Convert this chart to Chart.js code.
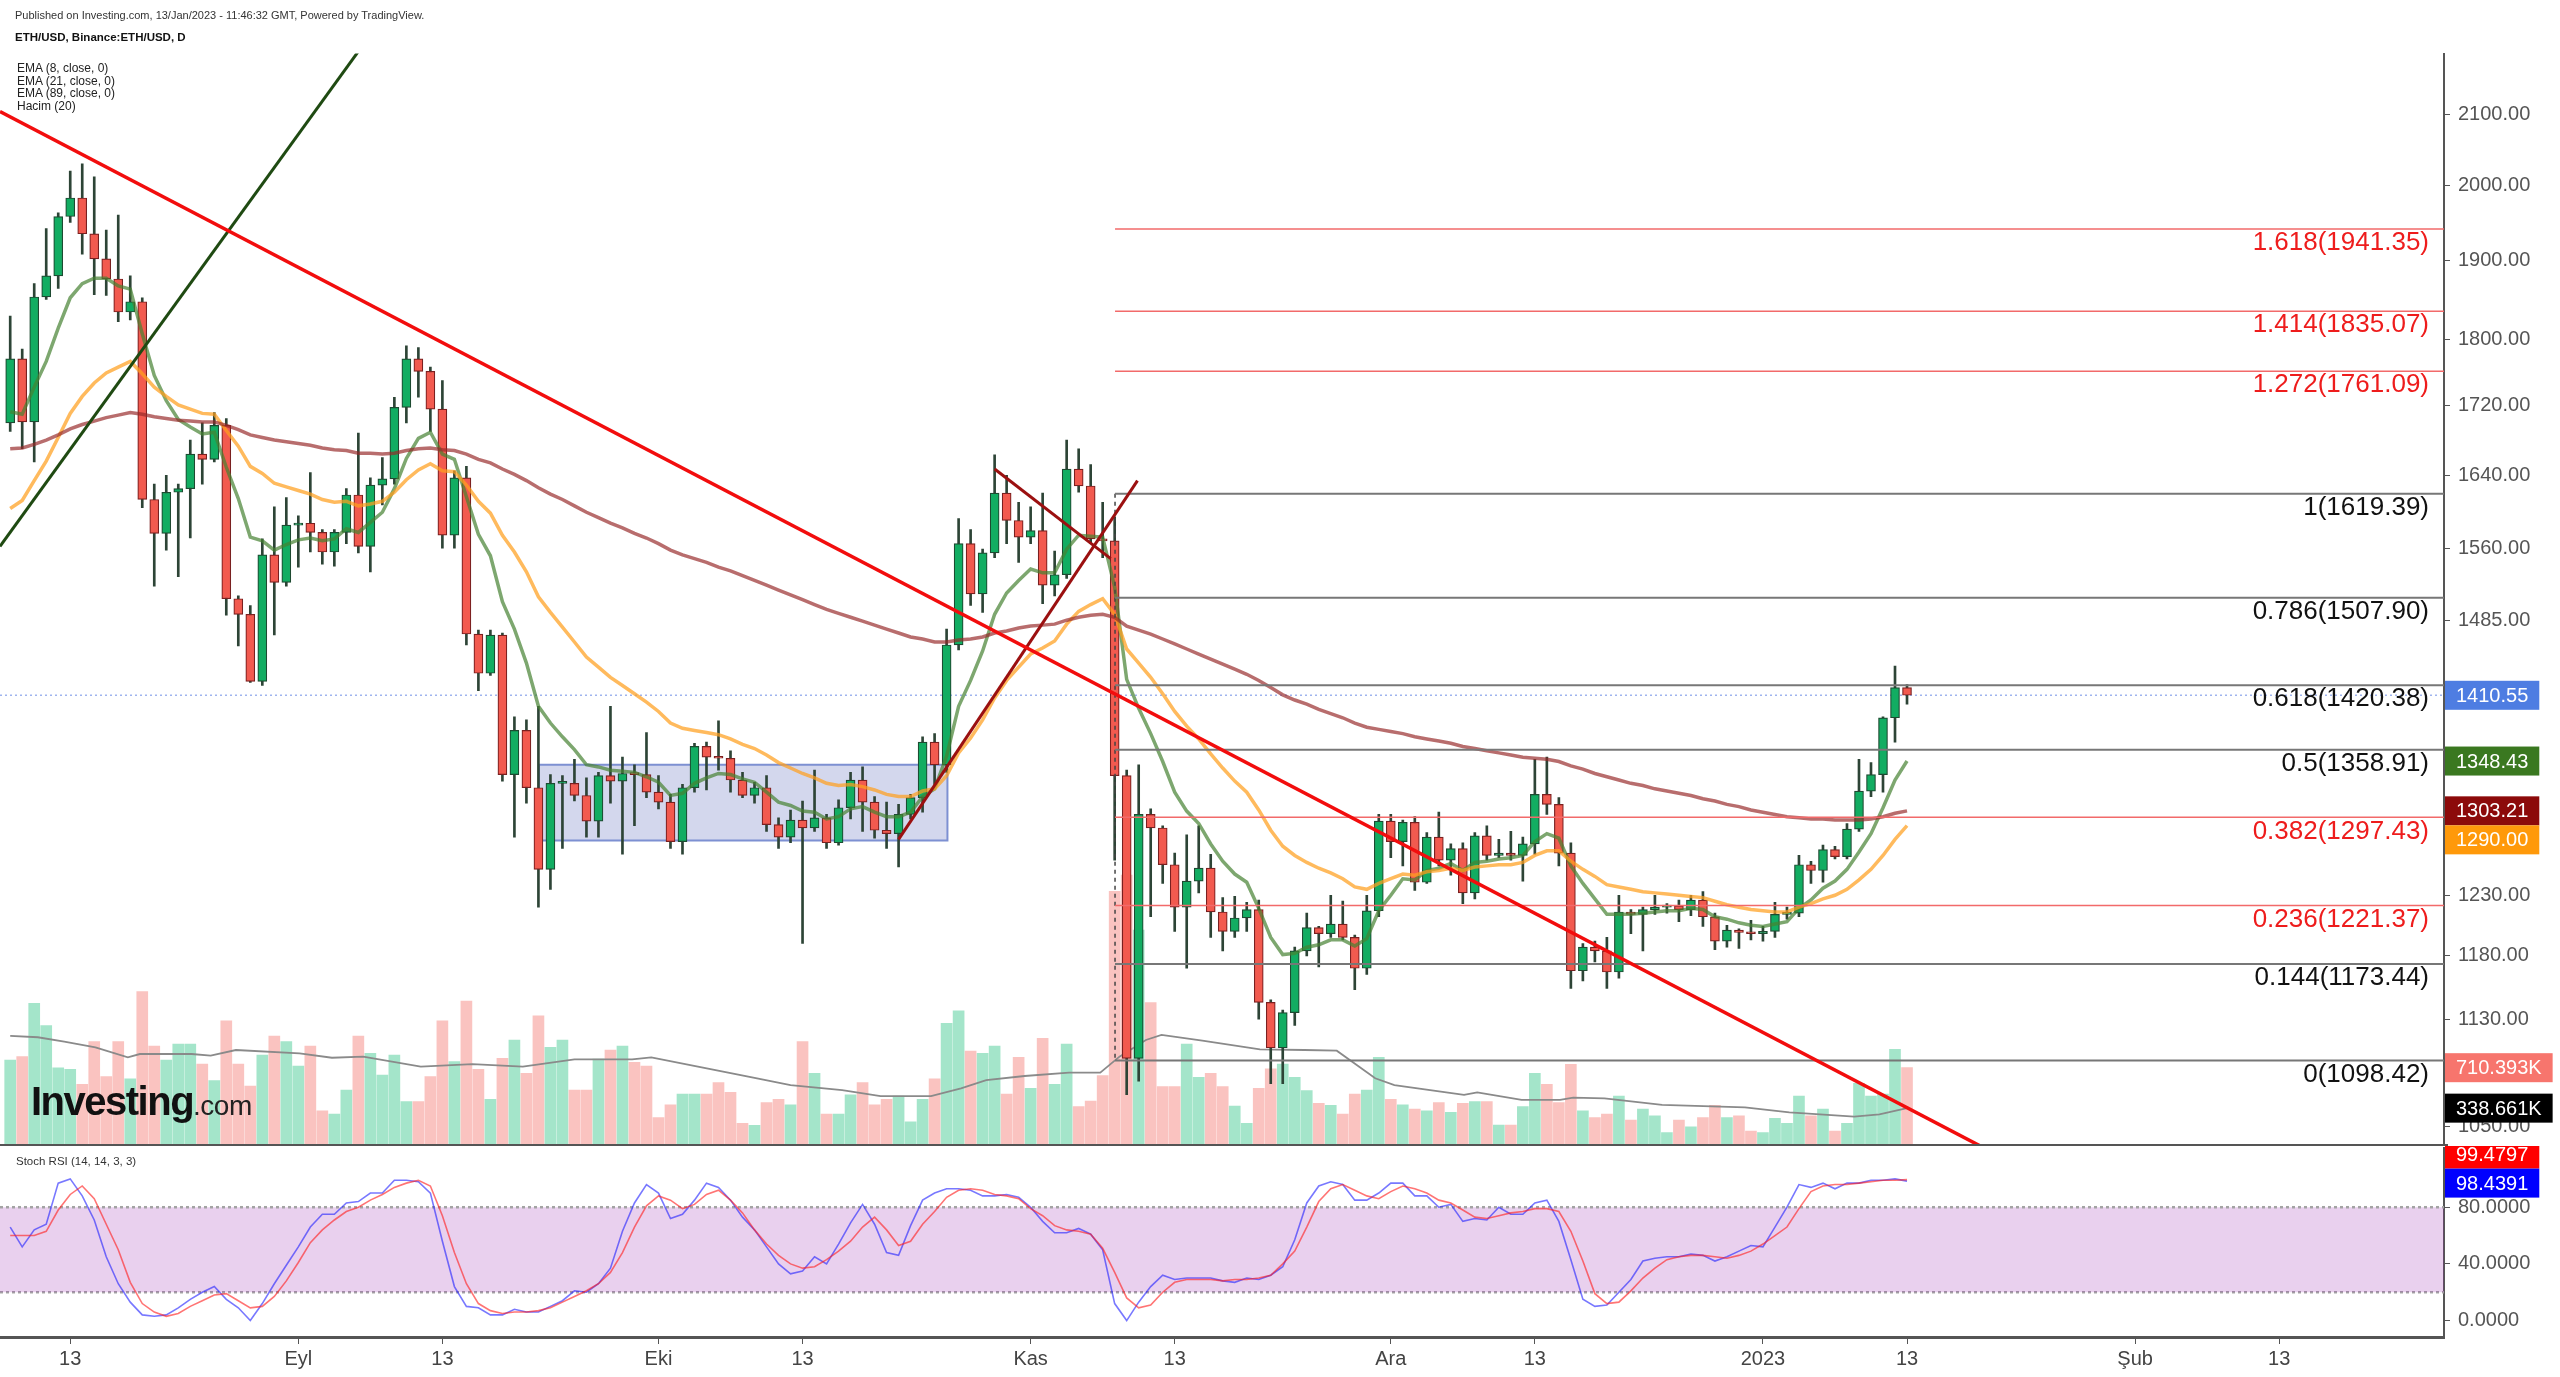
<!DOCTYPE html>
<html>
<head>
<meta charset="utf-8">
<title>ETH/USD</title>
<script src="https://cdn.jsdelivr.net/npm/chart.js@4.4.1/dist/chart.umd.min.js"></script>
<style>
  body { margin: 0; background: #fff; }
  #wrap { position: relative; width: 2560px; height: 1377px; overflow: hidden; font-family: "Liberation Sans", Arial, sans-serif; }
  #price { position: absolute; left: 0; top: 0; }
  #osc { position: absolute; left: 0; top: 1146px; }
  .txt { position: absolute; white-space: nowrap; color: #222; }
  #logo { position: absolute; left: 31px; top: 1081px; white-space: nowrap; line-height: 40px; }
  #logo .inv { font-weight: bold; font-size: 40px; letter-spacing: -1.5px; color: #111; }
  #logo .com { font-size: 28px; letter-spacing: -0.5px; color: #222; }
</style>
</head>
<body>
<div id="wrap">
  <canvas id="price" width="2560" height="1146"></canvas>
  <canvas id="osc" width="2560" height="231"></canvas>
  <div class="txt" style="left:15px;top:9px;font-size:11px;color:#333">Published on Investing.com, 13/Jan/2023 - 11:46:32 GMT, Powered by TradingView.</div>
  <div class="txt" style="left:15px;top:31px;font-size:11.5px;font-weight:bold;color:#111">ETH/USD, Binance:ETH/USD, D</div>
  <div class="txt" style="left:17px;top:62px;font-size:12px;line-height:12.6px">EMA (8, close, 0)<br>EMA (21, close, 0)<br>EMA (89, close, 0)<br>Hacim (20)</div>
  <div class="txt" style="left:16px;top:1155px;font-size:11.5px;color:#333">Stoch RSI (14, 14, 3, 3)</div>
  <div id="logo"><span class="inv">Investing</span><span class="com">.com</span></div>
</div>
<script>
// x axis is measured in days from 13 Aug 2022; first candle is 8 Aug 2022
const firstDay = -5;
const xMin = -5.85, xMax = 197.73;

// daily candles, 8 Aug 2022 .. 13 Jan 2023
const open = [
  1700,1776,1701,1853,1880,1958,1983,1935,1902,1876,1834,1847,1613,1576,1621,1625,1664,1658,1697,1507,1491,1424,1553,1524,
  1585,1587,1577,1556,1577,1618,1562,1629,1636,1718,1776,1761,1716,1574,1637,1471,1432,1470,1336,1377,1324,1252,1328,1328,1317,1294,1335,1330,1337,1336,
  1320,1311,1276,1324,1362,1352,1351,1331,1317,1324,1291,1280,1295,1288,1297,1275,1306,1331,1311,1286,1283,1300,1315,1366,1345,1460,1565,1512,1555,1620,1590,
  1572,1579,1521,1532,1647,1628,1570,1568,1335,1100,1300,1288,1256,1220,1242,1253,1216,1200,1211,1218,1143,1108,1135,1184,1203,1198,1206,1195,1170,1217,
  1294,1276,1293,1241,1280,1260,1270,1232,1281,1264,1266,1264,1274,1318,1309,1266,1168,1187,1184,1167,1216,1214,1218,1220,1221,1218,1226,1212,1192,1201,1199,
  1198,1200,1214,1215,1256,1251,1269,1263,1287,1321,1336,1389,1418
];
const high = [
  1829,1788,1870,1942,1963,2020,2030,2012,1940,1960,1880,1852,1630,1640,1630,1680,1700,1712,1705,1510,1500,1570,1605,1615,
  1595,1643,1580,1580,1625,1688,1637,1660,1730,1792,1790,1766,1750,1645,1650,1475,1475,1472,1390,1387,1400,1336,1335,1350,1333,1338,1400,1352,1345,1375,
  1335,1318,1327,1365,1366,1386,1358,1338,1329,1335,1297,1304,1312,1340,1300,1313,1338,1343,1316,1311,1309,1318,1371,1374,1476,1592,1580,1559,1663,1640,1610,
  1605,1620,1557,1680,1670,1652,1610,1594,1340,1345,1305,1290,1266,1282,1290,1265,1228,1229,1224,1226,1145,1137,1187,1215,1204,1230,1225,1197,1230,1300,
  1300,1295,1298,1284,1302,1274,1275,1284,1290,1278,1285,1280,1350,1352,1315,1275,1190,1192,1195,1230,1218,1220,1230,1223,1226,1230,1233,1215,1205,1202,1209,
  1204,1224,1220,1264,1259,1273,1272,1292,1350,1347,1390,1439,1421
];
const low = [
  1690,1670,1655,1850,1864,1950,1908,1856,1855,1822,1824,1604,1520,1558,1530,1571,1630,1655,1490,1459,1423,1420,1470,1520,
  1540,1556,1543,1541,1565,1555,1535,1607,1630,1700,1730,1690,1560,1560,1460,1415,1430,1330,1280,1310,1220,1235,1270,1312,1280,1280,1310,1265,1290,1315,
  1305,1270,1265,1320,1322,1340,1320,1315,1310,1285,1270,1275,1190,1285,1270,1273,1296,1285,1279,1270,1254,1296,1302,1327,1338,1455,1500,1493,1550,1565,1545,
  1565,1502,1510,1528,1621,1565,1550,1260,1073,1083,1212,1240,1200,1170,1232,1195,1184,1195,1200,1130,1081,1081,1125,1180,1171,1195,1193,1153,1165,1212,
  1262,1255,1234,1240,1255,1247,1223,1227,1260,1262,1260,1242,1265,1300,1255,1154,1160,1175,1154,1162,1198,1184,1214,1215,1208,1213,1204,1185,1187,1186,1193,
  1192,1195,1210,1212,1240,1241,1261,1261,1285,1316,1320,1366,1402
];
const close = [
  1776,1701,1853,1880,1958,1983,1935,1902,1876,1834,1847,1613,1576,1621,1625,1664,1658,1697,1507,1491,1424,1553,1524,1585,
  1587,1577,1556,1577,1618,1562,1629,1636,1718,1776,1761,1716,1574,1637,1471,1432,1470,1336,1377,1324,1252,1328,1328,1317,1294,1335,1330,1337,1336,1320,
  1311,1276,1324,1362,1352,1351,1331,1317,1324,1291,1280,1295,1288,1297,1275,1306,1331,1311,1286,1283,1300,1315,1366,1345,1460,1565,1512,1555,1620,1590,1572,
  1579,1521,1532,1647,1628,1570,1568,1335,1100,1300,1288,1256,1220,1242,1253,1216,1200,1211,1218,1143,1108,1135,1184,1203,1198,1206,1195,1170,1217,1294,
  1276,1293,1241,1280,1260,1270,1232,1281,1264,1266,1264,1274,1318,1309,1266,1168,1187,1184,1167,1216,1214,1218,1220,1221,1218,1226,1212,1192,1201,1199,1198,
  1200,1214,1215,1256,1251,1269,1263,1287,1321,1336,1389,1418,1410.55
];
// volume in thousands
const volume = [
  781,812,1302,1097,710,696,557,950,628,950,607,1409,910,781,928,928,744,591,1140,744,542,827,1002,950,
  726,910,315,285,505,1002,842,643,827,398,398,628,1140,766,1323,696,420,796,965,659,1186,898,965,505,505,790,873,910,760,726,
  251,368,469,469,469,573,484,199,181,389,420,368,950,659,285,285,460,573,368,420,450,214,420,607,1118,1234,864,842,910,469,806,
  521,980,557,928,352,404,637,2330,2480,1976,1308,536,536,928,622,659,536,358,199,521,700,744,622,499,383,365,285,469,505,806,
  420,368,331,315,389,300,383,398,398,184,184,352,659,557,389,742,315,251,285,450,230,331,267,113,230,168,251,365,251,267,129,
  113,245,199,450,267,331,129,199,567,450,469,879,710.393
];
// moving averages
const ema8 = [
  1713,1710,1742,1773,1814,1852,1870,1877,1877,1867,1863,1807,1756,1726,1704,1695,1687,1689,1649,1614,1572,1568,1558,1564,
  1569,1571,1568,1570,1581,1577,1588,1599,1625,1659,1682,1689,1664,1658,1616,1575,1552,1504,1476,1442,1400,1384,1371,1359,1345,1343,1340,1339,1338,1334,
  1329,1317,1319,1328,1333,1337,1336,1332,1329,1320,1311,1308,1303,1302,1296,1298,1305,1307,1302,1298,1298,1302,1316,1323,1353,1400,1425,1454,1491,1513,1526,
  1538,1534,1534,1559,1574,1573,1572,1519,1426,1398,1374,1348,1320,1303,1292,1274,1259,1248,1241,1219,1195,1181,1182,1187,1189,1193,1193,1188,1194,1217,
  1230,1244,1243,1251,1253,1257,1251,1258,1259,1261,1262,1264,1276,1283,1279,1255,1240,1227,1214,1214,1214,1215,1216,1217,1217,1219,1218,1212,1210,1207,1205,
  1204,1206,1208,1219,1226,1236,1242,1252,1267,1283,1306,1331,1348.43
];
const ema21 = [
  1603,1612,1634,1656,1683,1711,1731,1747,1759,1766,1773,1758,1742,1731,1721,1716,1711,1710,1691,1673,1650,1642,1631,1627,
  1623,1619,1613,1610,1611,1606,1608,1611,1621,1635,1646,1653,1645,1644,1629,1611,1598,1574,1556,1535,1509,1493,1478,1463,1448,1438,1428,1420,1412,1404,
  1395,1384,1379,1377,1375,1373,1369,1364,1360,1354,1347,1342,1337,1333,1328,1326,1327,1325,1322,1318,1316,1316,1321,1323,1335,1356,1370,1387,1408,1425,1438,
  1451,1457,1464,1481,1494,1501,1507,1491,1456,1442,1428,1412,1395,1381,1369,1355,1342,1330,1320,1304,1286,1272,1264,1258,1253,1249,1244,1237,1235,1240,
  1244,1248,1247,1250,1251,1253,1251,1254,1255,1256,1256,1258,1264,1268,1268,1259,1252,1246,1239,1237,1235,1233,1232,1231,1230,1229,1228,1225,1222,1220,1218,
  1217,1216,1216,1220,1223,1227,1230,1235,1243,1252,1264,1278,1290.00
];
const ema89 = [
  1670,1671,1675,1680,1686,1693,1698,1702,1706,1709,1712,1710,1707,1705,1703,1702,1701,1701,1697,1692,1686,1683,1680,1678,
  1676,1674,1671,1669,1668,1665,1665,1664,1665,1668,1670,1671,1669,1668,1664,1658,1654,1647,1641,1634,1626,1619,1613,1606,1599,1593,1587,1582,1576,1571,
  1565,1558,1553,1549,1545,1540,1536,1531,1526,1521,1516,1511,1506,1501,1496,1492,1488,1484,1480,1476,1472,1468,1466,1463,1463,1465,1466,1468,1472,1474,1477,
  1479,1480,1481,1485,1488,1490,1491,1488,1479,1475,1471,1466,1461,1456,1451,1446,1441,1436,1431,1425,1418,1411,1406,1402,1397,1393,1389,1384,1380,1378,
  1376,1374,1371,1369,1367,1365,1362,1360,1358,1356,1354,1352,1351,1350,1348,1344,1341,1337,1334,1331,1328,1326,1323,1321,1319,1317,1314,1312,1309,1307,1304,
  1302,1300,1298,1297,1296,1296,1295,1295,1295,1296,1298,1301,1303.21
];
// volume MA(20), [day, thousands]
const volMa = [
  [-5,1002],[-2.7,990],[-0.5,950],[2.1,898],[4.8,806],[5.8,836],[10.1,836],[11.7,821],[13.8,873],[19.1,842],[21.8,802],[24.4,812],
  [29.2,720],[33.5,744],[37.7,720],[42,787],[46.8,787],[48.4,806],[52.6,714],[56.9,619],[60,551],[64.3,505],[67.5,450],[71.7,450],
  [74.2,521],[76.3,597],[79.5,634],[83.2,665],[85.8,665],[87.4,812],[89.6,965],[90.9,1011],[94.3,959],[99.1,879],[102.8,873],
  [105.5,867],[108.7,613],[110.3,551],[116.1,460],[117.2,484],[120.9,414],[124.1,414],[125.2,435],[127.8,429],[132.6,368],
  [139.5,346],[143.2,300],[148.6,260],[150.7,282],[153,338.661]
];
// Stoch RSI (14,14,3,3), one value per candle
const stochK = [
  66,52,64,68,97,100,88,71,45,26,13,4,3,4,9,15,20,24,15,9,0,12,26,39,52,66,75,75,83,84,90,90,99,99,98,90,56,24,10,9,
  4,4,8,6,6,10,14,21,20,26,37,63,83,96,90,72,75,85,97,94,85,73,64,52,40,33,35,45,40,54,69,82,68,48,46,67,85,90,93,93,
  92,88,88,89,87,80,70,62,62,65,61,50,12,0,13,24,32,29,30,30,30,28,27,30,29,32,38,57,83,95,98,96,85,85,90,97,97,88,88,80,
  82,70,72,71,80,75,75,83,85,70,43,15,10,11,20,29,42,44,45,45,47,46,42,45,49,53,52,66,80,96,94,97,93,97,97,99,99,100,98.4391
];
const stochD = [
  60,60,60,63,78,89,95,86,68,50,27,12,6,3,5,10,14,18,19,14,9,10,17,28,41,55,64,71,77,80,85,89,94,97,99,95,74,48,26,12,
  7,5,6,6,7,9,13,17,21,26,34,48,66,81,88,85,79,82,89,92,85,76,64,54,46,40,37,38,43,49,56,66,73,64,53,56,68,77,87,92,
  93,92,89,88,86,79,74,67,64,63,61,51,34,16,9,11,20,27,29,29,29,28,29,29,30,32,40,49,66,84,93,96,92,88,86,91,95,93,90,85,
  83,78,73,72,74,76,77,79,79,77,63,42,19,12,13,21,30,37,43,45,46,46,45,44,46,49,54,60,66,79,91,95,96,96,97,98,99,99,99.4797
];
const stochBand = [20, 80];

// fibonacci retracement drawn from the 8 Nov candle
const fibStartDay = 87.03;
const fibLevels = [0, 0.144, 0.236, 0.382, 0.5, 0.618, 0.786, 1, 1.272, 1.414, 1.618];
const fibPrices = [1098.42, 1173.44, 1221.37, 1297.43, 1358.91, 1420.38, 1507.90, 1619.39, 1761.09, 1835.07, 1941.35];
const fibRedLevels = [0.236, 0.382, 1.272, 1.414, 1.618];

// hand-drawn lines, [day, price]
const downTrend = [[-5.85, 2104], [165, 1010]];
const upTrend = [[-5.85, 1562], [27.1, 2271]];
const wedgeUp = [[69.0, 1278], [88.9, 1634]];
const wedgeDown = [[77.0, 1647], [86.67, 1549]];
const rangeBox = { from: 39.05, to: 73.07, top: 1345, bottom: 1277 };

const priceTicks = [1050, 1130, 1180, 1230, 1485, 1560, 1640, 1720, 1800, 1900, 2000, 2100];
const oscTicks = [0, 40, 80];
const xTickDays = [0, 19, 31, 49, 61, 80, 92, 110, 122, 141, 153, 172, 184];
const xTickLabels = ['13', 'Eyl', '13', 'Eki', '13', 'Kas', '13', 'Ara', '13', '2023', '13', 'Şub', '13'];

Chart.defaults.font.family = '"Liberation Sans", Arial, sans-serif';

const days = close.map((c, i) => firstDay + i);
const isUp = close.map((c, i) => c >= open[i]);
const last = close.length - 1;

function lineSet(points, color, width, extra) {
  return Object.assign({
    type: 'line',
    data: points.map(p => ({ x: p[0], y: p[1] })),
    borderColor: color,
    borderWidth: width,
    pointRadius: 0,
    fill: false,
    tension: 0,
    order: 0
  }, extra || {});
}

// keep the plot area fixed: no extra room for edge labels
function fixWidth(w) {
  return s => { s.width = w; s.paddingTop = 0; s.paddingBottom = 0; };
}

function drawTag(ctx, x, y, text, bg, h) {
  ctx.font = '20px "Liberation Sans", Arial, sans-serif';
  const w = ctx.measureText(text).width + 22;
  ctx.fillStyle = bg;
  ctx.fillRect(x, y - h / 2, w, h);
  ctx.fillStyle = '#fff';
  ctx.textAlign = 'left';
  ctx.textBaseline = 'middle';
  ctx.fillText(text, x + 11, y + 1);
}

const priceOverlay = {
  id: 'priceOverlay',
  afterDraw(chart) {
    const { ctx, chartArea, scales } = chart;
    const ys = scales.y, yv = scales.yv;
    ctx.save();
    // pane separator
    ctx.strokeStyle = '#555';
    ctx.lineWidth = 3;
    ctx.beginPath();
    ctx.moveTo(0, chartArea.bottom + 0.5);
    ctx.lineTo(chartArea.right + 4, chartArea.bottom + 0.5);
    ctx.stroke();

    // fib labels sit just under their lines
    ctx.font = '26px "Liberation Sans", Arial, sans-serif';
    ctx.textAlign = 'right';
    ctx.textBaseline = 'middle';
    fibLevels.forEach((lvl, i) => {
      const py = ys.getPixelForValue(fibPrices[i]);
      ctx.fillStyle = fibRedLevels.includes(lvl) ? '#ee1c1c' : '#111';
      ctx.fillText(lvl + '(' + fibPrices[i].toFixed(2) + ')', chartArea.right - 15, py + 14);
    });

    // last value tags on the price axis
    const h = 29;
    const tags = [
      { y: ys.getPixelForValue(close[last]), text: close[last].toFixed(2), bg: '#4e7de2' },
      { y: ys.getPixelForValue(ema8[last]), text: ema8[last].toFixed(2), bg: '#3a7820' },
      { y: ys.getPixelForValue(ema89[last]), text: ema89[last].toFixed(2), bg: '#8c0a0a' },
      { y: ys.getPixelForValue(ema21[last]), text: ema21[last].toFixed(2), bg: '#ff990a' },
      { y: yv.getPixelForValue(volume[last]), text: volume[last].toFixed(3) + 'K', bg: '#f7756d' },
      { y: yv.getPixelForValue(volMa[volMa.length - 1][1]), text: volMa[volMa.length - 1][1].toFixed(3) + 'K', bg: '#000' }
    ];
    tags.sort((a, b) => a.y - b.y);
    for (let i = 1; i < tags.length; i++) {
      if (tags[i].y - tags[i - 1].y < h) tags[i].y = tags[i - 1].y + h;
    }
    tags.forEach(t => drawTag(ctx, chartArea.right + 1, t.y, t.text, t.bg, h));
    ctx.restore();
  }
};

const oscOverlay = {
  id: 'oscOverlay',
  afterDraw(chart) {
    const { ctx, chartArea, scales } = chart;
    const h = 29;
    const yK = scales.y.getPixelForValue(stochK[last]) + 2;
    ctx.save();
    drawTag(ctx, chartArea.right + 1, yK - h, stochD[last].toFixed(4), '#ff0000', h);
    drawTag(ctx, chartArea.right + 1, yK, stochK[last].toFixed(4), '#0000ff', h);
    ctx.restore();
  }
};

const fibSets = fibLevels.map((lvl, i) => {
  const red = fibRedLevels.includes(lvl);
  return lineSet([[fibStartDay, fibPrices[i]], [xMax, fibPrices[i]]], red ? '#f26a6a' : '#777', red ? 1.5 : 2, { order: 1 });
});

const boxPath = [[rangeBox.from, rangeBox.top], [rangeBox.to, rangeBox.top], [rangeBox.to, rangeBox.bottom],
  [rangeBox.from, rangeBox.bottom], [rangeBox.from, rangeBox.top]];

new Chart(document.getElementById('price'), {
  type: 'bar',
  data: {
    datasets: [
      // volume
      {
        type: 'bar', yAxisID: 'yv',
        data: days.map((d, i) => ({ x: d, y: volume[i] })),
        backgroundColor: isUp.map(u => u ? 'rgba(38,194,129,0.42)' : 'rgba(242,90,80,0.36)'),
        barThickness: 11, grouped: false, order: 10
      },
      lineSet(volMa, '#8a8a8a', 1.8, { yAxisID: 'yv', order: 9 }),
      // consolidation box
      lineSet([[rangeBox.from, rangeBox.top], [rangeBox.to, rangeBox.top]], 'rgba(0,0,0,0)', 0,
        { fill: '+1', backgroundColor: 'rgba(120,135,200,0.33)', order: 8 }),
      lineSet([[rangeBox.from, rangeBox.bottom], [rangeBox.to, rangeBox.bottom]], 'rgba(0,0,0,0)', 0, { order: 8 }),
      lineSet(boxPath, '#7d90d2', 2, { order: 7 }),
      // last price line
      lineSet([[xMin, close[last]], [xMax, close[last]]], '#9fb4ee', 1.5, { borderDash: [2, 3], order: 6 }),
      // candles
      {
        type: 'bar', label: 'wick',
        data: days.map((d, i) => ({ x: d, y: [low[i], high[i]] })),
        backgroundColor: '#2d4436', barThickness: 2, grouped: false, order: 5
      },
      {
        type: 'bar', label: 'body',
        data: days.map((d, i) => ({ x: d, y: [open[i], close[i]] })),
        backgroundColor: isUp.map(u => u ? '#12ad62' : '#f25a4f'),
        borderColor: isUp.map(u => u ? '#1d4a31' : '#7a2020'),
        borderWidth: 1.2, borderSkipped: false, barThickness: 9, minBarLength: 2, grouped: false, order: 4
      },
      // EMAs
      lineSet(days.map((d, i) => [d, ema89[i]]), 'rgba(150,40,40,0.68)', 3.5, { order: 3 }),
      lineSet(days.map((d, i) => [d, ema21[i]]), 'rgba(255,160,30,0.72)', 3.5, { order: 3 }),
      lineSet(days.map((d, i) => [d, ema8[i]]), 'rgba(70,130,50,0.7)', 3.5, { order: 3 }),
      // fib
      ...fibSets,
      lineSet([[fibStartDay, fibPrices[7]], [fibStartDay, fibPrices[0]]], '#444', 1.5, { borderDash: [4, 4], order: 1 }),
      // trend lines
      lineSet(downTrend, '#f20d0d', 3.5),
      lineSet(upTrend, '#1f4a12', 3),
      lineSet(wedgeUp, '#9b1010', 3),
      lineSet(wedgeDown, '#9b1010', 3)
    ]
  },
  options: {
    responsive: false,
    devicePixelRatio: 1,
    animation: false,
    events: [],
    layout: { padding: { left: 0, right: 0, top: 53.5, bottom: 1 } },
    scales: {
      x: { type: 'linear', display: false, min: xMin, max: xMax, offset: false },
      y: {
        type: 'logarithmic', position: 'right', min: 1036.6, max: 2189.3,
        afterBuildTicks: s => { s.ticks = priceTicks.map(v => ({ value: v })); },
        afterFit: fixWidth(116),
        ticks: { callback: v => Number(v).toFixed(2), color: '#555', font: { size: 20 }, padding: 8 },
        grid: { drawOnChartArea: false, tickLength: 6, color: '#555' },
        border: { display: true, color: '#555', width: 2 }
      },
      yv: { type: 'linear', display: false, min: 0, max: 10030 }
    },
    plugins: { legend: { display: false }, tooltip: { enabled: false } }
  },
  plugins: [priceOverlay]
});

new Chart(document.getElementById('osc'), {
  type: 'line',
  data: {
    datasets: [
      lineSet([[xMin, stochBand[1]], [xMax, stochBand[1]]], '#a3a3a3', 2.5,
        { borderDash: [3, 3], fill: '+1', backgroundColor: 'rgba(156,39,176,0.22)', order: 3 }),
      lineSet([[xMin, stochBand[0]], [xMax, stochBand[0]]], '#a3a3a3', 2.5, { borderDash: [3, 3], order: 3 }),
      lineSet(days.map((d, i) => [d, stochK[i]]), 'rgba(30,30,255,0.6)', 1.6, { order: 2 }),
      lineSet(days.map((d, i) => [d, stochD[i]]), 'rgba(255,30,30,0.62)', 1.6, { order: 1 })
    ]
  },
  options: {
    responsive: false,
    devicePixelRatio: 1,
    animation: false,
    events: [],
    layout: { padding: { left: 0, right: 0, top: 2, bottom: 0 } },
    scales: {
      x: {
        type: 'linear', min: xMin, max: xMax, offset: false,
        afterBuildTicks: s => { s.ticks = xTickDays.map(v => ({ value: v })); },
        afterFit: s => { s.height = 40; s.paddingLeft = 0; s.paddingRight = 0; },
        ticks: { callback: (v, i) => xTickLabels[i], autoSkip: false, maxRotation: 0, color: '#444', font: { size: 20 }, padding: 3 },
        grid: { drawOnChartArea: false, tickLength: 7, color: '#555' },
        border: { display: true, color: '#555', width: 3 }
      },
      y: {
        type: 'linear', position: 'right', min: -11.6, max: 121.8,
        afterBuildTicks: s => { s.ticks = oscTicks.map(v => ({ value: v })); },
        afterFit: fixWidth(116),
        ticks: { callback: v => Number(v).toFixed(4), color: '#555', font: { size: 20 }, padding: 8 },
        grid: { drawOnChartArea: false, tickLength: 6, color: '#555' },
        border: { display: true, color: '#555', width: 2 }
      }
    },
    plugins: { legend: { display: false }, tooltip: { enabled: false } }
  },
  plugins: [oscOverlay]
});
</script>
</body>
</html>
